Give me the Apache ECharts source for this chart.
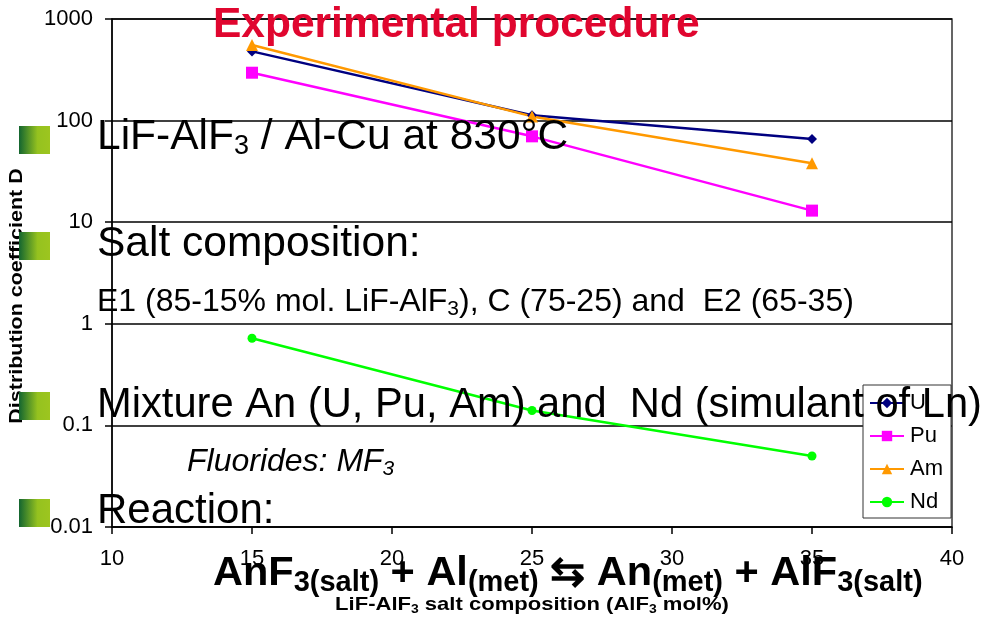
<!DOCTYPE html>
<html><head><meta charset="utf-8">
<script src="https://cdn.jsdelivr.net/npm/echarts@6/dist/echarts.min.js"></script>
<style>html,body{margin:0;padding:0;background:#fff}#c{width:984px;height:617px}</style>
</head><body><div id="c"></div>
<script>
// ---- data ----
const xValues = [15, 25, 35];
const uValues = [480, 113, 66];
const puValues = [296, 70, 13];
const amValues = [555, 110, 38];
const ndValues = [0.72, 0.14, 0.05];
const seriesNames = ['U', 'Pu', 'Am', 'Nd'];
const xMin = 10, xMax = 40, xStep = 5;
const yMin = 0.01, yMax = 1000;

const FONT = "'Liberation Sans', Arial, sans-serif";
const chart = echarts.init(document.getElementById('c'), null, {renderer: 'canvas'});

function pairs(vals) { return xValues.map((x, i) => [x, vals[i]]); }

const bulletFill = new echarts.graphic.LinearGradient(0, 0, 1, 0, [
  {offset: 0, color: '#136530'}, {offset: 0.6, color: '#95c21f'}, {offset: 1, color: '#9dc51f'}
]);
function bullet(top) {
  return {type: 'rect', left: 19, top: top, shape: {width: 31, height: 28}, style: {fill: bulletFill}, z: 100};
}
function richText(x, y, text, rich, extra) {
  return Object.assign({type: 'text', x: x, y: y, z: 101,
    style: Object.assign({text: text, rich: rich, verticalAlign: 'top', align: 'left', fill: '#000'}, extra || {})});
}
function plainText(x, yc, text, font, fill) {
  return {type: 'text', x: x, y: yc, z: 101,
    style: {text: text, font: font, fill: fill || '#000', verticalAlign: 'middle', align: 'left'}};
}
const big = {fontSize: 42.5, fontFamily: FONT, lineHeight: 46, color: '#000'};
const bigSub = {fontSize: 27, fontFamily: FONT, lineHeight: 17, verticalAlign: 'bottom', color: '#000'};
const mid = {fontSize: 32, fontFamily: FONT, lineHeight: 36, color: '#000'};
const midSub = {fontSize: 21, fontFamily: FONT, lineHeight: 16, verticalAlign: 'bottom', color: '#000'};
const midI = Object.assign({}, mid, {fontStyle: 'italic'});
const midISub = Object.assign({}, midSub, {fontStyle: 'italic'});
const eq = {fontSize: 41.5, fontFamily: FONT, fontWeight: 'bold', lineHeight: 46, color: '#000'};
const eqSub = {fontSize: 29, fontFamily: FONT, fontWeight: 'bold', lineHeight: 13, verticalAlign: 'bottom', color: '#000'};
const ax = {fontSize: 19, fontFamily: FONT, fontWeight: 'bold', lineHeight: 22, color: '#000'};
const axSub = {fontSize: 12, fontFamily: FONT, fontWeight: 'bold', lineHeight: 8, verticalAlign: 'bottom', color: '#000'};

const option = {
  animation: false,
  backgroundColor: '#fff',
  grid: {left: 112, right: 32, top: 19, bottom: 90, show: true, borderColor: '#333', borderWidth: 1.5, backgroundColor: 'transparent'},
  xAxis: {
    type: 'value', min: xMin, max: xMax, interval: xStep,
    axisLine: {onZero: false, lineStyle: {color: '#000', width: 1.5}},
    axisTick: {show: true, length: 7, lineStyle: {color: '#000', width: 1.5}},
    axisLabel: {fontSize: 22, fontFamily: FONT, color: '#000', margin: 21},
    splitLine: {show: false}
  },
  yAxis: {
    type: 'log', logBase: 10, min: yMin, max: yMax,
    axisLine: {show: true, lineStyle: {color: '#000', width: 1.5}},
    axisTick: {show: true, length: 7, lineStyle: {color: '#000', width: 1.5}},
    axisLabel: {fontSize: 22, fontFamily: FONT, color: '#000', margin: 19,
      formatter: function (v) { return String(+v.toPrecision(6)); }},
    splitLine: {show: true, lineStyle: {color: '#000', width: 1.5}},
    minorTick: {show: false}
  },
  legend: {
    orient: 'vertical', left: 863, top: 385,
    padding: [7, 8, 5, 6], itemGap: 11, itemWidth: 34, itemHeight: 13,
    backgroundColor: '#fff', borderColor: '#333', borderWidth: 1,
    textStyle: {fontSize: 22, fontFamily: FONT, color: '#000', lineHeight: 21, padding: [0, 0, 0, 1]},
    data: seriesNames
  },
  series: [
    {name: 'U', type: 'line', data: pairs(uValues), symbol: 'diamond', symbolSize: 10,
      lineStyle: {color: '#000080', width: 2.5}, itemStyle: {color: '#000080'}},
    {name: 'Pu', type: 'line', data: pairs(puValues), symbol: 'rect', symbolSize: 12,
      lineStyle: {color: '#ff00ff', width: 2.5}, itemStyle: {color: '#ff00ff'}},
    {name: 'Am', type: 'line', data: pairs(amValues), symbol: 'triangle', symbolSize: 12,
      lineStyle: {color: '#ff9900', width: 2.5}, itemStyle: {color: '#ff9900'}},
    {name: 'Nd', type: 'line', data: pairs(ndValues), symbol: 'circle', symbolSize: 9,
      lineStyle: {color: '#00ff00', width: 2.5}, itemStyle: {color: '#00ff00'}}
  ],
  graphic: [
    // axis titles
    {type: 'text', x: 17, y: 296, rotation: Math.PI / 2, scaleX: 1.13, z: 50,
      style: {text: 'Distribution coefficient D', font: "bold 19px " + FONT, fill: '#000', align: 'center', verticalAlign: 'middle'}},
    {type: 'text', x: 532, y: 594, scaleX: 1.16, z: 50,
      style: {text: '{a|LiF-AlF}{s|3}{a| salt composition (AlF}{s|3}{a| mol%)}', rich: {a: ax, s: axSub}, align: 'center', verticalAlign: 'top'}},
    // slide overlay
    plainText(213, 25, 'Experimental procedure', 'bold 42.5px ' + FONT, '#e0062f'),
    bullet(126), bullet(232), bullet(392), bullet(499),
    richText(97, 114, '{a|LiF-AlF}{s|3}{a| / Al-Cu at 830°C}', {a: big, s: bigSub}),
    plainText(97, 244, 'Salt composition:', '42.5px ' + FONT),
    richText(97, 284, '{a|E1 (85-15% mol. LiF-AlF}{s|3}{a|), C (75-25) and  E2 (65-35)}', {a: mid, s: midSub}),
    plainText(97, 406, 'Mixture An (U, Pu, Am) and  Nd (simulant of Ln)', '41.7px ' + FONT),
    richText(187, 444, '{a|Fluorides: MF}{s|3}', {a: midI, s: midISub}),
    plainText(97, 511, 'Reaction:', '42px ' + FONT),
    richText(213, 551, '{a|AnF}{s|3(salt)}{a| + Al}{s|(met)}{a| ⇆ An}{s|(met)}{a| + AlF}{s|3(salt)}', {a: eq, s: eqSub})
  ]
};
chart.setOption(option);
</script>
</body></html>
